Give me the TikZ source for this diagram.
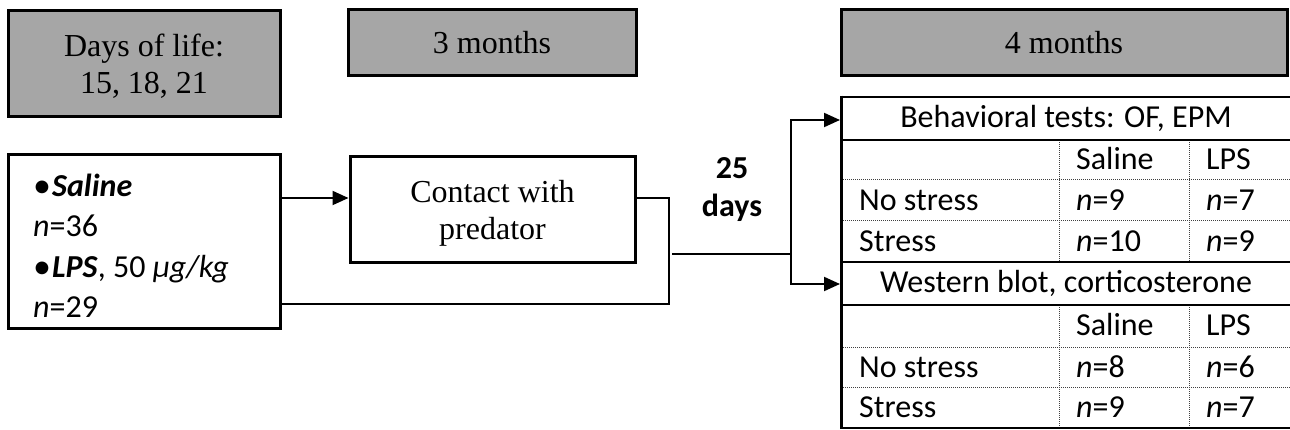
\documentclass[tikz,border=0pt]{standalone}
\usepackage{fontspec}
\setmainfont{Liberation Serif}
\newfontfamily\calfont{Carlito}
\usetikzlibrary{arrows.meta}
\newcommand{\twolines}[3]{\raisebox{#1}[\height][\depth]{\begin{tabular}{@{}c@{}}#2\\#3\end{tabular}}}
\newcommand{\blt}{{\fontsize{36}{38}\selectfont\raisebox{-1pt}{•}}\hspace{1pt}}
\begin{document}
\begin{tikzpicture}[x=1pt,y=-1pt,
  box/.style={draw, line width=3pt, inner sep=0pt, align=center,
    font=\fontsize{32}{37}\selectfont},
  graybox/.style={box, fill=black!35},
  conn/.style={line width=2pt},
  arr/.style={conn, -{Triangle[length=16pt,width=14pt]}},
  lt/.style={font=\calfont\fontsize{32}{38}\selectfont, inner sep=0pt, anchor=base west},
  ct/.style={font=\calfont\fontsize{32}{38}\selectfont, inner sep=0pt, anchor=base},
  bt/.style={font=\calfont\bfseries\fontsize{32}{38}\selectfont, inner sep=0pt, anchor=base},
  solidrule/.style={line width=2.5pt},
  dotrule/.style={line width=1pt, black!75, dash pattern=on 1pt off 1pt}]
\useasboundingbox (0,0) rectangle (1290,430);
\fill[white] (0,0) rectangle (1290,430);
% header boxes
\node[graybox, minimum width=272pt, minimum height=106pt] (g1) at (144,64) {\twolines{-4pt}{Days of life:}{15, 18, 21}};
\node[graybox, minimum width=288pt, minimum height=66pt] (g2) at (492,43) {3 months};
\node[graybox, minimum width=446pt, minimum height=66pt] (g3) at (1064,43) {4 months};
% left box
\node[box, minimum width=272pt, minimum height=173pt] (L) at (144,241.5) {};
\node[lt] (l1) at (33,197) {\blt\textbf{\textit{Saline}}};
\node[lt] (l2) at (33,237) {\textit{n}=36};
\node[lt] (l3) at (33,278) {\blt\textbf{\textit{LPS}}, 50 \textit{μg/kg}};
\node[lt] (l4) at (33,317) {\textit{n}=29};
% contact box
\node[box, minimum width=285pt, minimum height=106pt] (C) at (492.5,210) {\twolines{-4pt}{Contact with}{predator}};
% 25 days
\node[bt] (d1) at (732,179) {25};
\node[bt] (d2) at (732,217) {days};
% connectors
\coordinate (j1) at (669,198);
\coordinate (j2) at (669,304);
\coordinate (s) at (672,254);
\coordinate (b) at (791,254);
\coordinate (tl1) at (840,120);
\coordinate (tl2) at (840,284);
\draw[arr] (L.east |- j1) -- (C.west |- j1);
\draw[conn] (C.east |- j1) -- (j1) -- (j2) -- (L.east |- j2);
\draw[conn] (s) -- (b);
\draw[arr] (b) |- (tl1);
\draw[arr] (b) |- (tl2);
% table rules
\foreach \y in {180,221,347,387} \draw[dotrule] (841,\y) -- (1290,\y);
\foreach \x in {1059,1189} {
  \draw[dotrule] (\x,140) -- (\x,262);
  \draw[dotrule] (\x,305) -- (\x,428);
}
\foreach \y in {97,140,262,305,428} \draw[solidrule] (840,\y) -- (1290,\y);
\draw[line width=3pt] (841,95.75) -- (841,429.25);
% table text
\node[ct] (h1) at (1066,128) {Behavioral tests: OF, EPM};
\node[lt] (a1) at (1076,170) {Saline};
\node[lt] (a2) at (1206,170) {LPS};
\node[lt] (a3) at (859,211) {No stress};
\node[lt] (a4) at (1076,211) {\textit{n}=9};
\node[lt] (a5) at (1206,211) {\textit{n}=7};
\node[lt] (a6) at (859,252) {Stress};
\node[lt] (a7) at (1076,252) {\textit{n}=10};
\node[lt] (a8) at (1206,252) {\textit{n}=9};
\node[ct] (h2) at (1066,293) {Western blot, corticosterone};
\node[lt] (b1) at (1076,335) {Saline};
\node[lt] (b2) at (1206,335) {LPS};
\node[lt] (b3) at (859,377) {No stress};
\node[lt] (b4) at (1076,377) {\textit{n}=8};
\node[lt] (b5) at (1206,377) {\textit{n}=6};
\node[lt] (b6) at (859,417) {Stress};
\node[lt] (b7) at (1076,417) {\textit{n}=9};
\node[lt] (b8) at (1206,417) {\textit{n}=7};
\end{tikzpicture}
\end{document}
